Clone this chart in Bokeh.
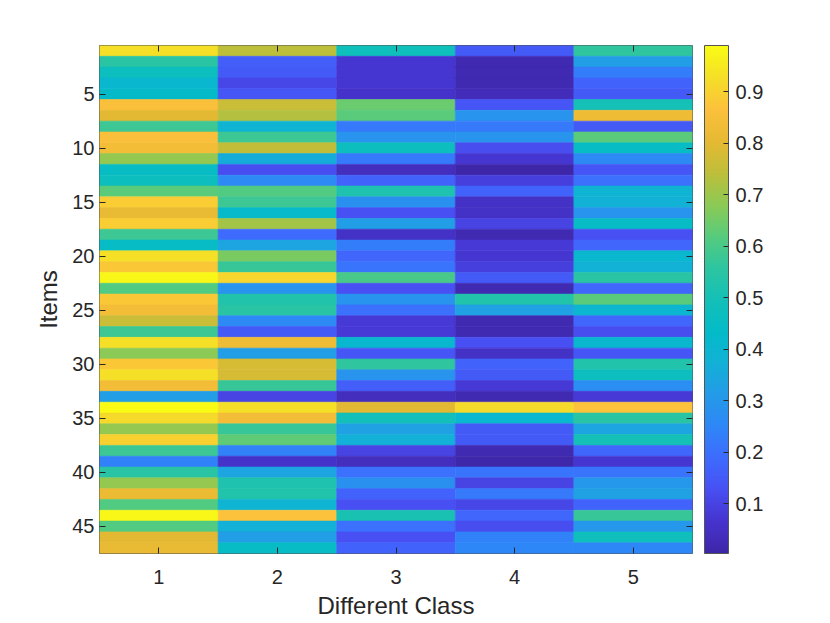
import numpy as np
from bokeh.plotting import figure
from bokeh.models import (LinearColorMapper, ColorBar, LinearAxis, FixedTicker,
                          Range1d, ColumnDataSource)
from bokeh.transform import transform
from bokeh.embed import file_html
from bokeh.resources import INLINE

# ---------------- data ----------------
classes = [1, 2, 3, 4, 5]
items = list(range(1, 48))

class1 = [0.93, 0.55, 0.47, 0.41, 0.43, 0.86, 0.80, 0.58, 0.86, 0.84,
          0.69, 0.45, 0.47, 0.62, 0.89, 0.81, 0.89, 0.58, 0.45, 0.93,
          0.88, 0.98, 0.61, 0.88, 0.84, 0.76, 0.58, 0.93, 0.68, 0.88,
          0.93, 0.84, 0.32, 0.99, 0.92, 0.69, 0.90, 0.58, 0.24, 0.55,
          0.69, 0.82, 0.61, 0.98, 0.61, 0.80, 0.81]
class2 = [0.74, 0.16, 0.15, 0.11, 0.14, 0.76, 0.73, 0.39, 0.58, 0.75,
          0.36, 0.12, 0.26, 0.61, 0.58, 0.42, 0.71, 0.19, 0.34, 0.66,
          0.57, 0.91, 0.29, 0.53, 0.55, 0.26, 0.15, 0.83, 0.32, 0.78,
          0.78, 0.57, 0.10, 0.93, 0.84, 0.57, 0.63, 0.24, 0.06, 0.34,
          0.52, 0.53, 0.39, 0.87, 0.37, 0.32, 0.45]
class3 = [0.48, 0.07, 0.07, 0.07, 0.06, 0.64, 0.62, 0.22, 0.29, 0.47,
          0.22, 0.04, 0.17, 0.52, 0.28, 0.13, 0.32, 0.05, 0.23, 0.18,
          0.21, 0.60, 0.13, 0.29, 0.20, 0.08, 0.08, 0.41, 0.14, 0.56,
          0.29, 0.16, 0.04, 0.80, 0.49, 0.33, 0.37, 0.10, 0.04, 0.20,
          0.28, 0.17, 0.13, 0.51, 0.20, 0.13, 0.17]
class4 = [0.15, 0.02, 0.02, 0.02, 0.03, 0.14, 0.29, 0.22, 0.29, 0.12,
          0.07, 0.005, 0.09, 0.17, 0.05, 0.05, 0.10, 0.02, 0.08, 0.07,
          0.09, 0.15, 0.02, 0.53, 0.33, 0.02, 0.02, 0.13, 0.05, 0.17,
          0.15, 0.08, 0.02, 0.92, 0.41, 0.15, 0.15, 0.02, 0.01, 0.21,
          0.10, 0.22, 0.11, 0.18, 0.12, 0.24, 0.25]
class5 = [0.56, 0.32, 0.23, 0.17, 0.15, 0.50, 0.83, 0.15, 0.62, 0.45,
          0.26, 0.14, 0.20, 0.39, 0.38, 0.29, 0.45, 0.13, 0.18, 0.41,
          0.38, 0.55, 0.18, 0.62, 0.40, 0.18, 0.12, 0.41, 0.14, 0.53,
          0.47, 0.27, 0.08, 0.87, 0.55, 0.34, 0.50, 0.18, 0.07, 0.21,
          0.30, 0.33, 0.17, 0.57, 0.30, 0.48, 0.25]

item_ticks = [5, 10, 15, 20, 25, 30, 35, 40, 45]
cbar_ticks = [0.1, 0.2, 0.3, 0.4, 0.5, 0.6, 0.7, 0.8, 0.9]
clim_low, clim_high = 0.003, 0.99

# ---------------- parula-like palette ----------------
anchor_pos = np.linspace(0, 1, 17)
anchor_rgb = np.array([
    (62, 38, 168), (70, 52, 207), (72, 80, 243), (62, 107, 254),
    (46, 135, 247), (36, 155, 232), (18, 177, 214), (3, 187, 200),
    (20, 192, 183), (45, 197, 160), (87, 203, 125), (140, 202, 85),
    (190, 190, 58), (230, 185, 50), (252, 192, 60), (245, 222, 40),
    (249, 251, 20)], dtype=float)
tt = np.linspace(0, 1, 256)
palette = []
for t in tt:
    r = np.interp(t, anchor_pos, anchor_rgb[:, 0])
    g = np.interp(t, anchor_pos, anchor_rgb[:, 1])
    b = np.interp(t, anchor_pos, anchor_rgb[:, 2])
    palette.append("#%02x%02x%02x" % (int(round(r)), int(round(g)), int(round(b))))

xs, ys, vs = [], [], []
for c, col in zip(classes, [class1, class2, class3, class4, class5]):
    for it, v in zip(items, col):
        xs.append(c)
        ys.append(it)
        vs.append(v)
source = ColumnDataSource(dict(x=xs, y=ys, v=vs))
mapper = LinearColorMapper(palette=palette, low=clim_low, high=clim_high)

FONT = "Liberation Sans"
INK = "#262626"
BOX = "#555555"
FRAME_W, FRAME_H = 593, 508

p = figure(frame_width=FRAME_W, frame_height=FRAME_H,
           x_range=Range1d(0.5, 5.5), y_range=Range1d(47.5, 0.5),
           output_backend="svg", toolbar_location=None,
           min_border_left=99, min_border_top=45, min_border_bottom=10,
           min_border_right=100)
p.rect(x="x", y="y", width=1, height=1, source=source,
       fill_color=transform("v", mapper), line_color=transform("v", mapper),
       line_width=0.6)

p.grid.visible = False
p.outline_line_color = BOX
p.outline_line_width = 1

p.xaxis.ticker = FixedTicker(ticks=classes)
p.yaxis.ticker = FixedTicker(ticks=item_ticks)
p.xaxis.axis_label = "Different Class"
p.yaxis.axis_label = "Items"
for ax in [p.xaxis[0], p.yaxis[0]]:
    ax.major_tick_in = 6
    ax.major_tick_out = 0
    ax.minor_tick_line_color = None
    ax.axis_line_color = None
    ax.major_tick_line_color = INK
    ax.major_label_text_font = FONT
    ax.major_label_text_font_size = "20px"
    ax.major_label_text_color = INK
    ax.axis_label_text_font = FONT
    ax.axis_label_text_font_size = "24px"
    ax.axis_label_text_font_style = "normal"
    ax.axis_label_text_color = INK
p.xaxis.major_label_standoff = 16
p.xaxis.axis_label_standoff = 5
p.yaxis.major_label_standoff = 5
p.yaxis.axis_label_standoff = 7

top_ax = LinearAxis(ticker=FixedTicker(ticks=classes))
right_ax = LinearAxis(ticker=FixedTicker(ticks=item_ticks))
for ax in [top_ax, right_ax]:
    ax.major_tick_in = 6
    ax.major_tick_out = 0
    ax.minor_tick_line_color = None
    ax.axis_line_color = None
    ax.major_tick_line_color = INK
    ax.major_label_text_font_size = "1px"
    ax.major_label_text_color = None
    ax.major_label_standoff = 0
p.add_layout(top_ax, "above")
p.add_layout(right_ax, "right")

cbar = ColorBar(color_mapper=mapper, ticker=FixedTicker(ticks=cbar_ticks),
                location=(FRAME_W + 12, 0), width=24, height=FRAME_H,
                padding=0, margin=0, label_standoff=7,
                major_tick_in=5, major_tick_out=0, major_tick_line_color=INK,
                minor_tick_line_color=None,
                bar_line_color=BOX, border_line_color=None,
                background_fill_color=None,
                major_label_text_font=FONT, major_label_text_font_size="20px",
                major_label_text_color=INK)
p.add_layout(cbar, "center")

open("out.html", "w").write(file_html(p, INLINE))
